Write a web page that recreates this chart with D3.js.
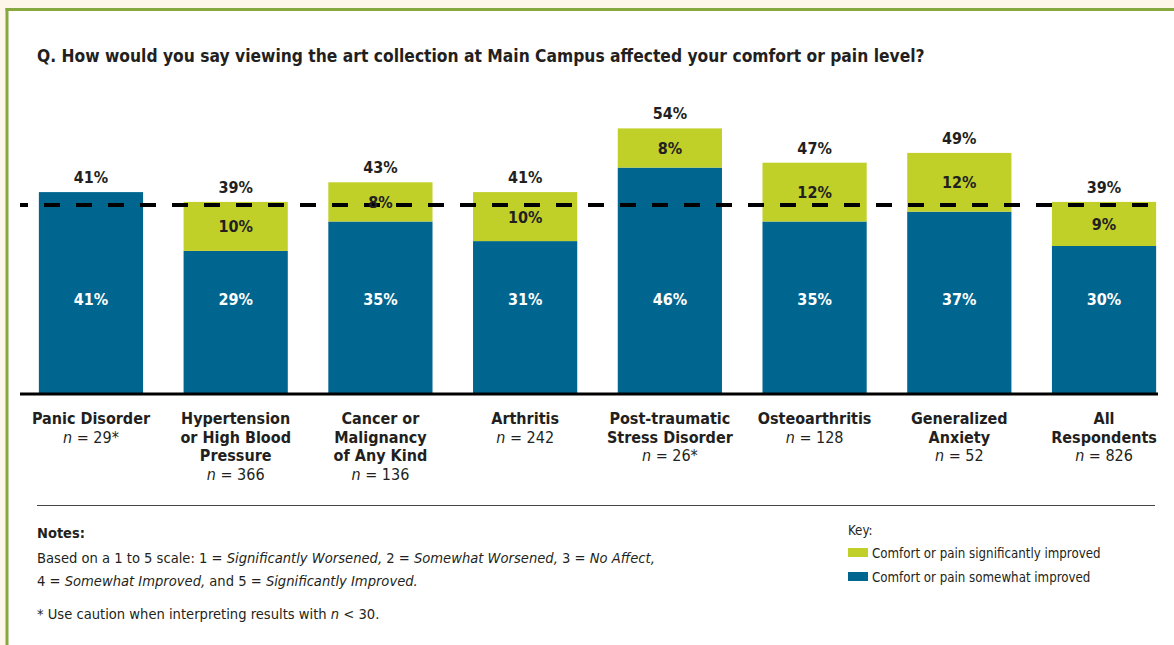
<!DOCTYPE html>
<html>
<head>
<meta charset="utf-8">
<script src="https://cdn.jsdelivr.net/npm/d3@7/dist/d3.min.js"></script>
<style>
  html, body { margin: 0; padding: 0; background: #fdf6e9; }
  svg { display: block; }
  text { font-family: "Liberation Sans Narrow", "Arial Narrow", "DejaVu Sans Condensed", sans-serif; fill: #231f20; }
</style>
</head>
<body>
<svg id="chart" width="1174" height="645"></svg>
<script>
// Survey groups and sample sizes
const categories = [
  ["Panic Disorder"],
  ["Hypertension", "or High Blood", "Pressure"],
  ["Cancer or", "Malignancy", "of Any Kind"],
  ["Arthritis"],
  ["Post-traumatic", "Stress Disorder"],
  ["Osteoarthritis"],
  ["Generalized", "Anxiety"],
  ["All", "Respondents"]
];
const sampleSizes = ["29*", "366", "136", "242", "26*", "128", "52", "826"];

// Percent of respondents, by response
const somewhatImproved = [41, 29, 35, 31, 46, 35, 37, 30];
const significantlyImproved = [0, 10, 8, 10, 8, 12, 12, 9];
const totals = [41, 39, 43, 41, 54, 47, 49, 39];

// Reference line: all respondents
const referenceValue = 39;

const seriesNames = ["Comfort or pain significantly improved", "Comfort or pain somewhat improved"];
const colors = { sig: "#c1cf29", some: "#01668f" };

const svg = d3.select("#chart");

// white panel with green frame
svg.append("rect").attr("x", 7).attr("y", 9.5).attr("width", 1180).attr("height", 650)
  .attr("fill", "#ffffff");
svg.append("line").attr("x1", 5.5).attr("x2", 1174).attr("y1", 9.5).attr("y2", 9.5)
  .attr("stroke", "#87a83e").attr("stroke-width", 3);
svg.append("line").attr("x1", 7).attr("x2", 7).attr("y1", 8).attr("y2", 645)
  .attr("stroke", "#87a83e").attr("stroke-width", 3);

svg.append("text").attr("x", 37).attr("y", 62)
  .attr("font-size", 17.3).attr("font-weight", "bold")
  .text("Q. How would you say viewing the art collection at Main Campus affected your comfort or pain level?");

const x = d3.scaleBand().domain(d3.range(categories.length))
  .range([18.6, 1176.4]).paddingInner(0.28).paddingOuter(0.14);
const y = d3.scaleLinear().domain([0, 60]).range([393, 393 - 60 * 4.9]);

const rows = categories.map((c, i) => ({
  i, some: somewhatImproved[i], sig: significantlyImproved[i], total: totals[i]
}));

const g = svg.append("g");

// somewhat improved (bottom segment)
g.selectAll("rect.some").data(rows).join("rect")
  .attr("class", "some")
  .attr("x", d => x(d.i)).attr("width", x.bandwidth())
  .attr("y", d => y(d.some)).attr("height", d => y(0) - y(d.some))
  .attr("fill", colors.some);

// significantly improved (top segment)
g.selectAll("rect.sig").data(rows.filter(d => d.sig > 0)).join("rect")
  .attr("class", "sig")
  .attr("x", d => x(d.i)).attr("width", x.bandwidth())
  .attr("y", d => y(d.some + d.sig))
  .attr("height", d => y(d.some) - y(d.some + d.sig))
  .attr("fill", colors.sig);

// dashed reference line
g.append("line").attr("x1", 20).attr("x2", 1162)
  .attr("y1", y(referenceValue) + 3).attr("y2", y(referenceValue) + 3)
  .attr("stroke", "#000").attr("stroke-width", 4)
  .attr("stroke-dasharray", "16,16").attr("stroke-dashoffset", 8);

// baseline
g.append("line").attr("x1", 20).attr("x2", 1158).attr("y1", y(0) + 1).attr("y2", y(0) + 1)
  .attr("stroke", "#000").attr("stroke-width", 3);

// labels inside blue segments
g.selectAll("text.some").data(rows).join("text")
  .attr("class", "some")
  .attr("x", d => x(d.i) + x.bandwidth() / 2).attr("y", 305)
  .attr("text-anchor", "middle").attr("font-size", 16).attr("font-weight", "bold")
  .style("fill", "#ffffff")
  .text(d => d.some + "%");

// labels inside green segments
g.selectAll("text.sig").data(rows.filter(d => d.sig > 0)).join("text")
  .attr("class", "sig")
  .attr("x", d => x(d.i) + x.bandwidth() / 2)
  .attr("y", d => (y(d.some + d.sig) + y(d.some)) / 2 + 6)
  .attr("text-anchor", "middle").attr("font-size", 16).attr("font-weight", "bold")
  .text(d => d.sig + "%");

// totals above bars
g.selectAll("text.total").data(rows).join("text")
  .attr("class", "total")
  .attr("x", d => x(d.i) + x.bandwidth() / 2).attr("y", d => y(d.total) - 9)
  .attr("text-anchor", "middle").attr("font-size", 16).attr("font-weight", "bold")
  .text(d => d.total + "%");

// category labels
const cat = g.selectAll("text.cat").data(categories).join("text")
  .attr("class", "cat")
  .attr("text-anchor", "middle").attr("font-size", 16);
cat.each(function (lines, i) {
  const t = d3.select(this);
  const cx = x(i) + x.bandwidth() / 2;
  lines.forEach((ln, k) => {
    t.append("tspan").attr("x", cx).attr("y", 424 + k * 18.5)
      .attr("font-weight", "bold").text(ln);
  });
  const nl = t.append("tspan").attr("x", cx).attr("y", 424 + lines.length * 18.5);
  nl.append("tspan").attr("font-style", "italic").text("n");
  nl.append("tspan").text(" = " + sampleSizes[i]);
});

// separator
svg.append("line").attr("x1", 37).attr("x2", 1155).attr("y1", 505.5).attr("y2", 505.5)
  .attr("stroke", "#444").attr("stroke-width", 1.2);

// notes
svg.append("text").attr("x", 37).attr("y", 538).attr("font-size", 14.5).attr("font-weight", "bold").text("Notes:");
const n1 = svg.append("text").attr("x", 37).attr("y", 563).attr("font-size", 14.6);
n1.append("tspan").text("Based on a 1 to 5 scale: 1 = ");
n1.append("tspan").attr("font-style", "italic").text("Significantly Worsened,");
n1.append("tspan").text(" 2 = ");
n1.append("tspan").attr("font-style", "italic").text("Somewhat Worsened,");
n1.append("tspan").text(" 3 = ");
n1.append("tspan").attr("font-style", "italic").text("No Affect,");
const n2 = svg.append("text").attr("x", 37).attr("y", 586).attr("font-size", 14.6);
n2.append("tspan").text("4 = ");
n2.append("tspan").attr("font-style", "italic").text("Somewhat Improved,");
n2.append("tspan").text(" and 5 = ");
n2.append("tspan").attr("font-style", "italic").text("Significantly Improved.");
const n3 = svg.append("text").attr("x", 37).attr("y", 619).attr("font-size", 14.6);
n3.append("tspan").text("* Use caution when interpreting results with ");
n3.append("tspan").attr("font-style", "italic").text("n");
n3.append("tspan").text(" < 30.");

// key
svg.append("text").attr("x", 848).attr("y", 535).attr("font-size", 13.2).text("Key:");
const key = svg.append("g").selectAll("g").data(seriesNames).join("g")
  .attr("transform", (d, i) => `translate(848, ${548 + i * 24})`);
key.append("rect").attr("width", 20).attr("height", 9)
  .attr("fill", (d, i) => i === 0 ? colors.sig : colors.some);
key.append("text").attr("x", 24).attr("y", 10).attr("font-size", 13.2).text(d => d);
</script>
</body>
</html>
